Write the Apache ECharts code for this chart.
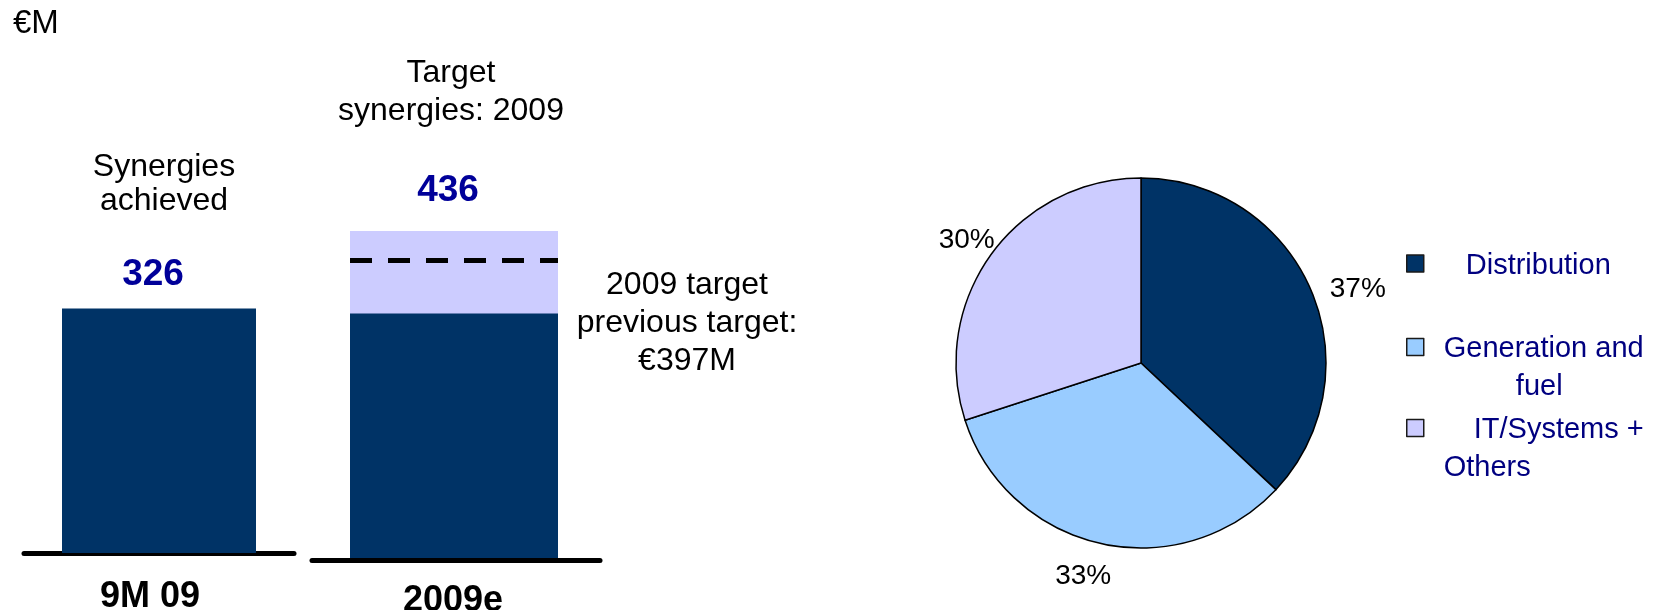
<!DOCTYPE html>
<html>
<head>
<meta charset="utf-8">
<script src="https://cdn.jsdelivr.net/npm/echarts@6/dist/echarts.min.js"></script>
<style>
  html, body { margin: 0; padding: 0; background: #ffffff; }
  #chart { width: 1661px; height: 610px; }
</style>
</head>
<body>
<div id="chart"></div>
<script>
// Synergies, €M
const periods = ['9M 09', '2009e'];
const achieved = [326];        // synergies achieved, 9M 09
const targetTotal = [436];     // target synergies 2009
const targetBase = [326];      // dark part of the 2009e bar
const previousTarget = 397;    // earlier 2009 target (dashed line)

// Split of synergies by area, %
const areas = ['Distribution', 'Generation and\nfuel', 'IT/Systems +\nOthers'];
const shares = [37, 33, 30];

// ---- styling ----
const FONT = '"Liberation Sans", Arial, Helvetica, sans-serif';
const NAVY = '#003366';
const LAVENDER = '#CCCCFF';
const areaColors = ['#003366', '#99CCFF', '#CCCCFF'];
const VALUE_BLUE = '#000099';
const LEGEND_BLUE = '#000080';

const PIE_CX = 1141, PIE_CY = 363, PIE_R = 185;
// label placement around the pie: extra radius, then horizontal nudge
const labelGap = [0, 34, 23];
const labelNudge = [47, -10, -6];
const shareTotal = shares.reduce((a, b) => a + b, 0);

function labelPoint(i) {
  let before = 0;
  for (let j = 0; j < i; j++) before += shares[j];
  const mid = (before + shares[i] / 2) / shareTotal * Math.PI * 2; // clockwise from 12 o'clock
  const r = PIE_R + labelGap[i];
  return [PIE_CX + r * Math.sin(mid) + labelNudge[i], PIE_CY - r * Math.cos(mid)];
}

const hiddenValueAxis = (gi) => ({ type: 'value', gridIndex: gi, min: 0, max: 600, show: false });

const richBase = { fontFamily: FONT, fontSize: 29, lineHeight: 38, color: LEGEND_BLUE };
const legendRich = {
  d: Object.assign({}, richBase, { padding: [0, 0, 0, 37] }),
  g: Object.assign({}, richBase, { padding: [0, 0, 0, 15] }),
  f: Object.assign({}, richBase, { align: 'center', padding: [0, 0, 0, 6] }),
  i: Object.assign({}, richBase, { padding: [0, 0, 0, 45] }),
  o: Object.assign({}, richBase, { padding: [0, 0, 0, 15] })
};
const legendKeys = [['d'], ['g', 'f'], ['i', 'o']];
const legendTops = [242, 288, 369];
const legendPadTop = [5, 42, 42];

const categoryLabel = {
  fontSize: 36, fontWeight: 'bold', color: '#000', lineHeight: 36, fontFamily: FONT
};

const chart = echarts.init(document.getElementById('chart'), null, { renderer: 'canvas' });

chart.setOption({
  animation: false,
  backgroundColor: '#ffffff',
  textStyle: { fontFamily: FONT },
  grid: [
    { left: 24, width: 270, top: 103, height: 450, outerBoundsMode: 'none', containLabel: false },   // 9M 09 bar
    { left: 350, width: 208, top: 108, height: 450, outerBoundsMode: 'none', containLabel: false },  // 2009e bar
    { left: 312, width: 288, top: 110, height: 450, outerBoundsMode: 'none', containLabel: false }   // 2009e baseline
  ],
  xAxis: [
    {
      type: 'category', gridIndex: 0, data: [periods[0]], offset: 2,
      axisLine: { lineStyle: { color: '#000', width: 5, cap: 'round' } },
      axisTick: { show: false },
      axisLabel: Object.assign({}, categoryLabel, { margin: 24, padding: [0, 18, 0, 0] })
    },
    { type: 'category', gridIndex: 1, data: [periods[1]], show: false },
    {
      type: 'category', gridIndex: 2, data: [periods[1]],
      axisLine: { lineStyle: { color: '#000', width: 5, cap: 'round' } },
      axisTick: { show: false },
      axisLabel: Object.assign({}, categoryLabel, { margin: 23, padding: [0, 6, 0, 0] })
    }
  ],
  yAxis: [hiddenValueAxis(0), hiddenValueAxis(1), hiddenValueAxis(2)],
  legend: areas.map((name, k) => ({
    data: [name],
    left: 1406,
    top: legendTops[k],
    padding: 0,
    orient: 'vertical',
    icon: 'rect',
    itemWidth: 17,
    itemHeight: 17,
    selectedMode: false,
    itemStyle: { borderColor: '#1a1a1a', borderWidth: 1.5 },
    textStyle: Object.assign({}, richBase, { padding: [legendPadTop[k], 0, 0, 0], rich: legendRich }),
    formatter: (n) => n.split('\n').map((line, j) => '{' + legendKeys[k][j] + '|' + line + '}').join('\n')
  })),
  series: [
    {
      name: 'Synergies achieved',
      type: 'bar', xAxisIndex: 0, yAxisIndex: 0,
      data: achieved, barWidth: 194,
      itemStyle: { color: NAVY },
      label: {
        show: true, position: 'top', distance: 15, offset: [-6, 0],
        fontSize: 37, fontWeight: 'bold', color: VALUE_BLUE, lineHeight: 38, fontFamily: FONT
      },
      silent: true
    },
    {
      name: 'Target synergies 2009',
      type: 'bar', xAxisIndex: 1, yAxisIndex: 1,
      data: targetTotal, barWidth: '100%', barGap: '-100%',
      itemStyle: { color: LAVENDER },
      label: {
        show: true, position: 'top', distance: 21, offset: [-6, 0],
        fontSize: 37, fontWeight: 'bold', color: VALUE_BLUE, lineHeight: 38, fontFamily: FONT
      },
      markLine: {
        silent: true,
        symbol: 'none',
        label: { show: false },
        lineStyle: { color: '#000', width: 5, type: [22, 16], cap: 'butt' },
        data: [{ yAxis: previousTarget }]
      },
      silent: true
    },
    {
      name: 'Base',
      type: 'bar', xAxisIndex: 1, yAxisIndex: 1,
      data: targetBase, barWidth: '100%', barGap: '-100%',
      itemStyle: { color: NAVY },
      silent: true
    },
    {
      name: 'Synergies by area',
      type: 'pie',
      center: [PIE_CX, PIE_CY],
      radius: PIE_R,
      startAngle: 90,
      clockwise: true,
      avoidLabelOverlap: false,
      emphasis: { scale: false },
      silent: true,
      itemStyle: { borderColor: '#000', borderWidth: 1.5 },
      label: {
        show: true, position: 'outside', formatter: '{c}%',
        fontSize: 28, color: '#000', fontFamily: FONT
      },
      labelLine: { show: false },
      labelLayout: (p) => {
        const pt = labelPoint(p.dataIndex);
        return { x: pt[0], y: pt[1], align: 'center', verticalAlign: 'middle' };
      },
      data: areas.map((name, i) => ({ name: name, value: shares[i], itemStyle: { color: areaColors[i] } }))
    }
  ],
  graphic: [
    { type: 'text', x: 13, y: 24, silent: true,
      style: { text: '€M', font: '33px ' + FONT, fill: '#000', align: 'left', verticalAlign: 'middle' } },
    { type: 'text', x: 164, y: 184, silent: true,
      style: { text: 'Synergies\nachieved', font: '32px ' + FONT, lineHeight: 34, fill: '#000', align: 'center', verticalAlign: 'middle' } },
    { type: 'text', x: 451, y: 92.5, silent: true,
      style: { text: 'Target\nsynergies: 2009', font: '32px ' + FONT, lineHeight: 38, fill: '#000', align: 'center', verticalAlign: 'middle' } },
    { type: 'text', x: 687, y: 323.5, silent: true,
      style: { text: '2009 target\nprevious target:\n€' + previousTarget + 'M', font: '32px ' + FONT, lineHeight: 38, fill: '#000', align: 'center', verticalAlign: 'middle' } }
  ]
});
</script>
</body>
</html>
